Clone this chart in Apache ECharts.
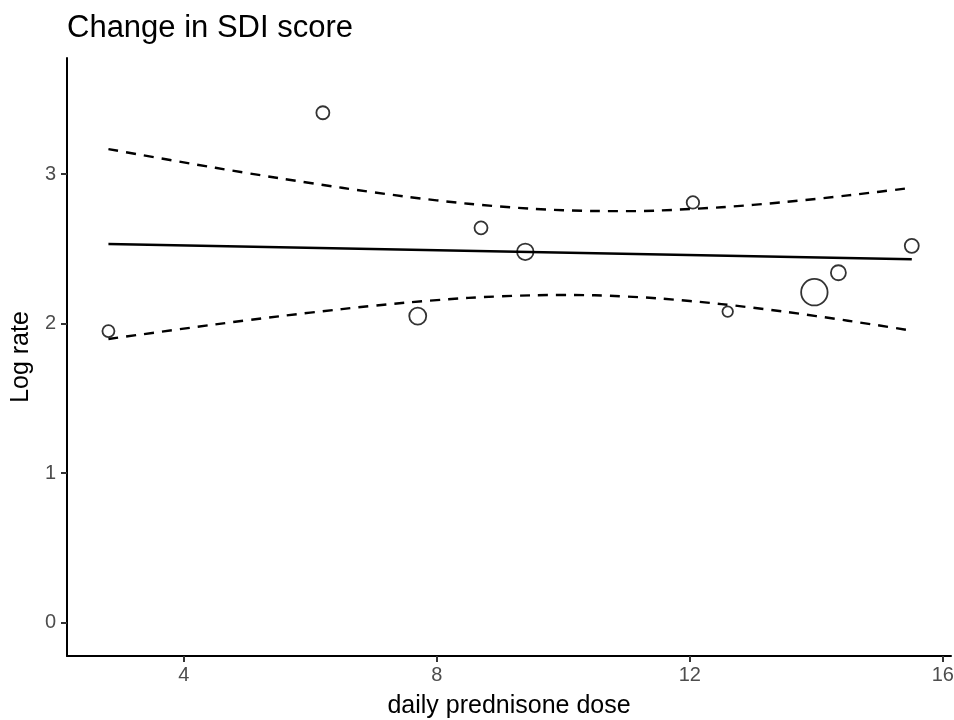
<!DOCTYPE html>
<html>
<head>
<meta charset="utf-8">
<script src="https://cdn.jsdelivr.net/npm/echarts@6/dist/echarts.min.js"></script>
<style>
html,body{margin:0;padding:0;background:#fff;}
#chart{width:954px;height:720px;}
</style>
</head>
<body>
<div id="chart"></div>
<script>
// ---- data ----
const doseX   = [2.81, 6.20, 7.70, 8.70, 9.40, 12.05, 12.60, 13.97, 14.35, 15.51];
const logRate = [1.95, 3.41, 2.05, 2.64, 2.48, 2.81, 2.08, 2.21, 2.34, 2.52];
const weights = [1.44, 1.69, 2.89, 1.69, 2.72, 1.56, 1.10, 7.00, 2.25, 1.96];

const fitX = [2.81, 15.51];
const fitY = [2.532, 2.430];

const ciX     = [2.81, 4, 5, 6, 7, 8, 9, 10, 11, 12, 13, 14, 15, 15.51];
const ciUpper = [3.167, 3.078, 3.007, 2.940, 2.878, 2.824, 2.783, 2.758, 2.752, 2.766, 2.794, 2.834, 2.882, 2.908];
const ciLower = [1.897, 1.966, 2.022, 2.073, 2.119, 2.157, 2.182, 2.191, 2.181, 2.151, 2.106, 2.050, 1.987, 1.952];

const xTicks = [4, 8, 12, 16];
const yTicks = [0, 1, 2, 3];

const chart = echarts.init(document.getElementById('chart'), null, {renderer: 'canvas'});
const font = 'Helvetica, "Liberation Sans", Arial, sans-serif';

const zip = (a, b) => a.map((v, i) => [v, b[i]]);

chart.setOption({
  animation: false,
  backgroundColor: '#fff',
  title: {
    text: 'Change in SDI score',
    left: 62, top: 8,
    textStyle: {fontFamily: font, fontSize: 31, fontWeight: 'normal', color: '#000'}
  },
  grid: {left: 67, right: 3, top: 58, bottom: 64, containLabel: false, outerBoundsMode: 'none'},
  xAxis: {
    type: 'value', min: 2.155, max: 16.13,
    name: 'daily prednisone dose', nameLocation: 'middle', nameGap: 38,
    nameTextStyle: {fontFamily: font, fontSize: 25, color: '#000', verticalAlign: 'top'},
    axisLine: {show: true, onZero: false, lineStyle: {color: '#000', width: 2}},
    axisTick: {show: true, customValues: xTicks, length: 6, lineStyle: {color: '#333', width: 2}},
    axisLabel: {customValues: xTicks, color: '#4d4d4d', fontFamily: font, fontSize: 20, margin: 9},
    splitLine: {show: false}
  },
  yAxis: {
    type: 'value', min: -0.223, max: 3.776,
    name: 'Log rate', nameLocation: 'middle', nameGap: 33, nameRotate: 90,
    nameTextStyle: {fontFamily: font, fontSize: 25, color: '#000'},
    axisLine: {show: true, onZero: false, lineStyle: {color: '#000', width: 2}},
    axisTick: {show: true, customValues: yTicks, length: 6, lineStyle: {color: '#333', width: 2}},
    axisLabel: {customValues: yTicks, color: '#4d4d4d', fontFamily: font, fontSize: 20, margin: 11},
    splitLine: {show: false}
  },
  series: [
    {
      type: 'scatter',
      data: doseX.map((x, i) => [x, logRate[i], weights[i]]),
      symbol: 'circle',
      symbolSize: d => 10 * Math.sqrt(d[2]),
      itemStyle: {color: 'rgba(255,255,255,0)', borderColor: '#000', borderWidth: 1.8},
      z: 3
    },
    {
      type: 'line', data: zip(fitX, fitY), showSymbol: false, symbol: 'none',
      lineStyle: {color: '#000', width: 2.4}, z: 2
    },
    {
      type: 'line', data: zip(ciX, ciUpper), showSymbol: false, symbol: 'none', smooth: 0.4,
      lineStyle: {color: '#000', width: 2.4, type: [10, 8]}, z: 2
    },
    {
      type: 'line', data: zip(ciX, ciLower), showSymbol: false, symbol: 'none', smooth: 0.4,
      lineStyle: {color: '#000', width: 2.4, type: [10, 8]}, z: 2
    }
  ]
});
</script>
</body>
</html>
